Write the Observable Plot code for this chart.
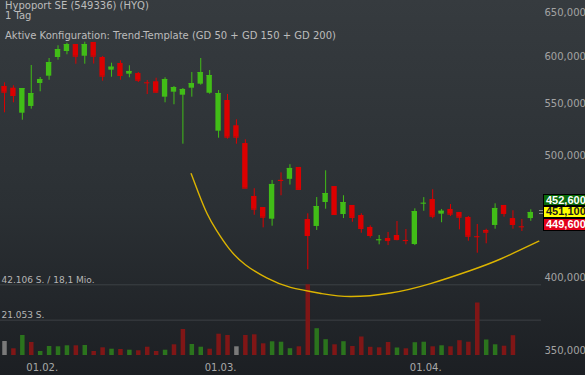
<!DOCTYPE html>
<html><head><meta charset="utf-8">
<script src="https://cdn.jsdelivr.net/npm/d3@7"></script>
<script src="https://cdn.jsdelivr.net/npm/@observablehq/plot@0.6"></script>
<style>
body{margin:0;background:#1c2024;}
#chart{position:relative;width:585px;height:375px;overflow:hidden;background:linear-gradient(to bottom,#363b3f 0%,#2b3034 55%,#1c1f23 100%);font-family:"DejaVu Sans",Verdana,sans-serif;}
#chart svg{position:absolute;left:0;top:0;}
.t{position:absolute;left:5px;color:#bcbcbc;font-size:10px;line-height:10px;white-space:nowrap;}
.box{position:absolute;left:543px;width:44px;box-sizing:border-box;border:1px solid #000;font:bold 11px "Liberation Sans",Arial,sans-serif;padding-left:2px;white-space:nowrap;}
.eq{position:absolute;left:539px;width:4px;height:1px;background:#8a8a8a;}
</style></head><body>
<div id="chart">
  <div class="t" style="top:1px">Hypoport SE (549336) (HYQ)<br>1 Tag</div>
  <div class="t" style="top:31px">Aktive Konfiguration: Trend-Template (GD 50 + GD 150 + GD 200)</div>
</div>
<script>
// ---- data (trading-day index 0 = 26.01.) ----
const open = [568.0, 566.2, 540.9, 547.6, 571.1, 578.8, 598.9, 605.5, 613.3, 600.3,
 615.6, 598.9, 585.2, 592.4, 580.9, 581.6, 571.9, 572.9, 557.0, 562.1,
 559.0, 566.2, 570.4, 561.0, 523.4, 553.6, 528.6, 511.7, 464.5, 455.2,
 445.6, 478.4, 479.3, 489.8, 445.3, 439.7, 459.4, 473.0, 449.4, 456.9,
 448.6, 438.9, 429.0, 430.1, 432.5, 428.6, 425.4, 458.7, 461.9, 449.7,
 453.6, 451.1, 447.0, 431.6, 436.5, 440.5, 456.9, 446.1, 439.5, 446.1];
const high = [571.8, 568.7, 565.9, 590.2, 577.4, 597.8, 611.9, 614.8, 613.3, 615.9,
 615.6, 600.0, 592.7, 595.3, 589.9, 582.7, 574.2, 576.6, 577.1, 568.0,
 565.9, 582.7, 597.8, 584.8, 563.8, 559.7, 534.4, 515.2, 471.1, 455.2,
 478.3, 485.0, 492.3, 489.8, 450.0, 463.6, 486.8, 473.0, 465.1, 456.9,
 450.0, 440.2, 432.5, 434.9, 443.7, 437.3, 454.1, 463.5, 470.2, 453.6,
 457.7, 451.1, 447.8, 441.3, 437.5, 458.3, 456.9, 452.5, 445.3, 453.3];
const low = [541.3, 551.3, 534.0, 544.9, 562.5, 574.5, 596.0, 601.9, 591.6, 591.6,
 591.8, 573.5, 577.7, 574.5, 577.1, 572.1, 559.7, 561.0, 551.3, 549.3,
 511.1, 557.0, 569.3, 560.0, 516.7, 515.8, 511.1, 471.6, 448.8, 438.6,
 439.9, 465.1, 474.3, 470.5, 406.2, 436.5, 453.8, 448.6, 446.1, 443.1,
 434.3, 430.4, 425.2, 424.6, 428.3, 425.2, 424.6, 452.1, 445.9, 442.7,
 447.8, 437.0, 428.0, 418.7, 426.0, 437.5, 447.2, 437.5, 435.7, 443.9];
const close = [562.1, 558.7, 565.9, 560.7, 575.3, 593.4, 607.7, 613.3, 600.3, 613.3,
 600.3, 578.8, 588.4, 579.5, 583.8, 574.5, 571.8, 562.1, 575.3, 566.9,
 564.9, 571.1, 582.7, 579.5, 560.7, 517.7, 517.7, 471.6, 453.8, 447.2,
 474.8, 478.3, 488.9, 470.5, 432.5, 456.0, 467.0, 449.4, 459.4, 447.0,
 438.1, 432.5, 429.1, 428.5, 429.3, 428.5, 451.9, 458.8, 448.0, 452.1,
 449.7, 447.2, 431.9, 431.5, 435.1, 454.4, 450.2, 441.3, 439.4, 451.1];
const volume = [8338, 3990, 11912, 7743, 2382, 5360, 5182, 5777, 5777, 5956,
 2382, 4586, 3752, 3574, 3157, 2799, 4943, 2382, 3157, 6373,
 15486, 6552, 4943, 3752, 12686, 11912, 5182, 11912, 12329, 6968,
 8160, 7921, 4050, 5182, 42106, 15962, 9410, 6373, 8219, 5360,
 11019, 4884, 4586, 7743, 4467, 3990, 7624, 7921, 5182, 5777,
 5182, 8815, 7921, 31269, 9232, 6373, 5539, 11793];
const dateLabels = ["01.02.", "01.03.", "01.04."];
const dateIdx = [4, 24, 47];
const priceTicks = [350, 400, 500, 550, 600, 650];
const volLines = [21053, 42106];
const volLabels = ["21.053 S.", "42.106 S. / 18,1 Mio."];
const curveIdx = [20.93, 21.78, 22.72, 23.77, 25.2, 27.0, 29.45, 32.06, 35.5, 38.79, 43.27, 47.76, 52.24, 55.61, 59.90];
const curvePrice = [484.2, 466.8, 450.0, 436.5, 422.0, 410.0, 400.0, 393.3, 389.0, 386.8, 389.3, 396.1, 405.7, 414.3, 428.0];
const quoteValues = [452.6, 451.1, 449.6];

// ---- build ----
const W = 585, H = 375, MR = 44;
const xDomain = [-0.448, 60.2];
const candles = open.map((o, i) => ({i, open: o, high: high[i], low: low[i], close: close[i], dir: close[i] > o ? "up" : "down"}));
const vols = volume.map((v, i) => ({i, v, dir: i === 0 ? "flat" : close[i] > close[i-1] ? "up" : close[i] < close[i-1] ? "down" : "flat"}));
const curve = curveIdx.map((x, k) => ({x, y: curvePrice[k]}));
const fmt = d => d3.format(".3f")(d).replace(".", ",");

const volPlot = Plot.plot({
  width: W, height: H, marginLeft: 0, marginRight: MR, marginTop: 0, marginBottom: 0,
  x: {domain: xDomain, axis: null},
  y: {domain: [0, 42106], range: [355, 284.3], axis: null},
  color: {domain: ["up", "down", "flat"], range: ["#2b741d", "#801616", "#7a7a7a"]},
  style: {background: "transparent", fontFamily: "DejaVu Sans", overflow: "visible"},
  marks: [
    Plot.ruleY(volLines, {stroke: "#3d4145", strokeWidth: 1}),
    Plot.ruleX(vols, {x: "i", y1: 0, y2: "v", stroke: "dir", strokeWidth: 4.5}),
    Plot.text(volLabels, {y: (d, k) => volLines[k], text: d => d, frameAnchor: "left", textAnchor: "start", lineAnchor: "bottom", dx: 1, dy: -2, fill: "#b5b5b5", fontSize: 9})
  ]
});

const pricePlot = Plot.plot({
  width: W, height: H, marginLeft: 0, marginRight: MR, marginTop: 0, marginBottom: 0,
  x: {domain: xDomain, axis: null},
  y: {type: "log", domain: [334.8, 664.7], range: [375, 0]},
  color: {domain: ["up", "down"], range: ["#41bd17", "#dc0000"]},
  style: {background: "transparent", fontFamily: "DejaVu Sans", fontSize: "10px", overflow: "visible"},
  marks: [
    Plot.axisY({anchor: "right", ticks: priceTicks, tickSize: 0, tickPadding: 3, tickFormat: fmt, color: "#a3a3a3", fontSize: 10, label: null}),
    Plot.ruleX(candles, {x: "i", y1: "low", y2: "high", stroke: "dir", strokeWidth: 1}),
    Plot.rect(candles, {x1: d => d.i - 0.3, x2: d => d.i + 0.3, y1: "open", y2: "close", fill: "dir"}),
    Plot.ruleY(candles, {x1: d => d.i - 0.3, x2: d => d.i + 0.3, y: "close", stroke: "dir", strokeWidth: 1}),
    Plot.line(curve, {x: "x", y: "y", curve: "natural", stroke: "#dcb400", strokeWidth: 1.4}),
    Plot.text(dateLabels, {x: (d, k) => dateIdx[k], text: d => d, frameAnchor: "bottom", lineAnchor: "bottom", dy: -5, dx: 2, fill: "#a8a8a8", fontSize: 10})
  ]
});

const chart = document.getElementById("chart");
chart.appendChild(volPlot);
chart.appendChild(pricePlot);

// price boxes at the last price
const yLast = pricePlot.scale("y").apply(quoteValues[1]);
const yTop = yLast - 5.5;
const boxes = [
  {v: quoteValues[0], top: yTop - 12.5, h: 12.5, bg: "#0a6a0a", fg: "#ffffff"},
  {v: quoteValues[1], top: yTop, h: 11.5, bg: "#ffff00", fg: "#1a1a1a"},
  {v: quoteValues[2], top: yTop + 11.5, h: 13.5, bg: "#e3001b", fg: "#ffffff"}
];
for (const b of boxes) {
  const d = document.createElement("div");
  d.className = "box";
  d.style.top = b.top + "px";
  d.style.height = b.h + "px";
  d.style.lineHeight = (b.h - 2) + "px";
  d.style.background = b.bg;
  d.style.color = b.fg;
  d.textContent = fmt(b.v);
  chart.appendChild(d);
}
for (const off of [-1.5, 1.5]) {
  const e = document.createElement("div");
  e.className = "eq";
  e.style.top = (yLast + off) + "px";
  chart.appendChild(e);
}
</script></body></html>
